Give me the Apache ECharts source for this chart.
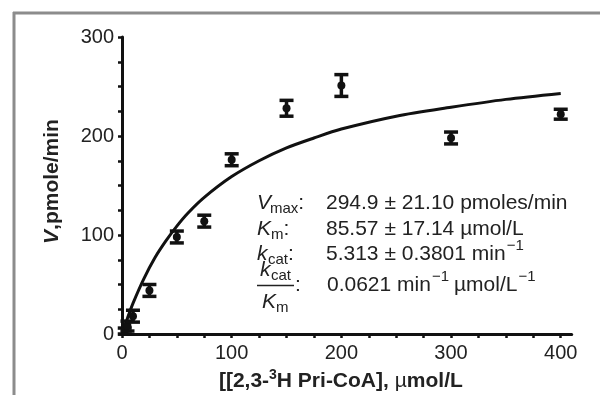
<!DOCTYPE html>
<html>
<head>
<meta charset="utf-8">
<script src="https://cdn.jsdelivr.net/npm/echarts@6/dist/echarts.min.js"></script>
<style>
html,body{margin:0;padding:0;background:#fff;}
#chart{width:600px;height:395px;}
</style>
</head>
<body>
<div id="chart"></div>
<script>
// ---- data ----
const concentrations = [2.5, 5, 10, 25, 50, 75, 100, 150, 200, 300, 400];
const velocities     = [3, 8, 18, 44, 98, 114, 176, 228, 251, 198, 222];
const velocityErrors = [3, 5, 6, 6, 6, 6, 6, 8, 11, 6, 5];

const fitX = [0, 5, 10, 20, 30, 40, 50, 60, 75, 100, 125, 150, 175, 200, 250, 300, 350, 400];
const fitY = [0, 16, 31, 56, 77, 94, 109, 122, 138, 159, 175, 188, 198, 207, 220, 229, 237, 243];

const xTickLabels = [0, 100, 200, 300, 400];
const yTickLabels = [0, 100, 200, 300];
const xMinorTicks = [0, 25, 50, 75, 100, 125, 150, 175, 200, 225, 250, 275, 300, 325, 350, 375, 400];
const yMinorTicks = [0, 25, 50, 75, 100, 125, 150, 175, 200, 225, 250, 275, 300];

const FONT = '"Liberation Sans", Arial, Helvetica, sans-serif';
const INK = '#111';
const TXT = '#222';

const chart = echarts.init(document.getElementById('chart'), null, {renderer: 'canvas'});

const pointData = concentrations.map((c, i) => [c, velocities[i], velocityErrors[i]]);
const fitData = fitX.map((x, i) => [x, fitY[i]]);

// text measuring helper for placing superscripts
const mctx = document.createElement('canvas').getContext('2d');
function tw(str, size, style) {
  mctx.font = (style || '') + ' ' + size + 'px ' + FONT;
  return mctx.measureText(str).width;
}

const FS = 21;   // annotation font size
const SS = 15;   // sub/superscript size
function txt(x, y, s, opts) {
  opts = opts || {};
  return {
    type: 'text', x: x, y: y, silent: true,
    style: {
      text: s, fill: TXT, font: (opts.style || '') + ' ' + (opts.size || FS) + 'px ' + FONT,
      textAlign: opts.align || 'left', textVerticalAlign: 'middle'
    }
  };
}

const graphics = [];
// frame (top and left grey rules)
graphics.push({type: 'line', shape: {x1: 13, y1: 13, x2: 600, y2: 13}, style: {stroke: '#8c8c8c', lineWidth: 3}, silent: true});
graphics.push({type: 'line', shape: {x1: 14, y1: 12, x2: 14, y2: 395}, style: {stroke: '#8c8c8c', lineWidth: 3}, silent: true});

// annotation block
const LX = 257, VX = 326;
const r1 = 203, r2 = 229, r3 = 254, r4 = 285;
// Vmax
graphics.push(txt(LX, r1, 'V', {style: 'italic'}));
graphics.push(txt(LX + 13, r1 + 6, 'max', {size: SS}));
graphics.push(txt(LX + 13 + tw('max', SS), r1, ':'));
graphics.push(txt(VX, r1, '294.9 \u00b1 21.10 pmoles/min'));
// Km
graphics.push(txt(LX, r2, 'K', {style: 'italic'}));
graphics.push(txt(LX + 14, r2 + 6, 'm', {size: SS}));
graphics.push(txt(LX + 14 + tw('m', SS), r2, ':'));
graphics.push(txt(VX, r2, '85.57 \u00b1 17.14 \u00b5mol/L'));
// kcat
graphics.push(txt(LX, r3, 'k', {style: 'italic'}));
graphics.push(txt(LX + 11, r3 + 6, 'cat', {size: SS}));
graphics.push(txt(LX + 11 + tw('cat', SS), r3, ':'));
const v3 = '5.313 \u00b1 0.3801 min';
graphics.push(txt(VX, r3, v3));
graphics.push(txt(VX + tw(v3, FS) + 1, r3 - 8, '\u22121', {size: SS}));
// kcat / Km
graphics.push(txt(LX + 3, r4 - 15, 'k', {style: 'italic'}));
graphics.push(txt(LX + 14, r4 - 9, 'cat', {size: SS}));
graphics.push({type: 'line', shape: {x1: LX, y1: r4 + 0.5, x2: LX + 37, y2: r4 + 0.5}, style: {stroke: TXT, lineWidth: 1.3}, silent: true});
graphics.push(txt(LX + 5, r4 + 17, 'K', {style: 'italic'}));
graphics.push(txt(LX + 19, r4 + 23, 'm', {size: SS}));
graphics.push(txt(LX + 38, r4, ':'));
const v4a = '0.0621 min';
graphics.push(txt(VX + 1, r4, v4a));
let px = VX + 1 + tw(v4a, FS) + 1;
graphics.push(txt(px, r4 - 8, '\u22121', {size: SS}));
px += tw('\u22121', SS) + 5;
const v4b = '\u00b5mol/L';
graphics.push(txt(px, r4, v4b));
px += tw(v4b, FS) + 1;
graphics.push(txt(px, r4 - 8, '\u22121', {size: SS}));

const option = {
  backgroundColor: '#fff',
  animation: false,
  textStyle: {fontFamily: FONT},
  grid: {left: 122, right: 600 - 571.7, top: 37, bottom: 395 - 334, containLabel: false, outerBoundsMode: 'none'},
  xAxis: {
    type: 'value', min: 0, max: 410,
    name: '[[2,3-{sup|3}H Pri-CoA], {mu|\u00b5}mol/L',
    nameLocation: 'middle', nameGap: 30,
    nameTextStyle: {
      fontSize: 21, fontWeight: 'bold', color: TXT, fontFamily: FONT, padding: [0, 12, 0, 0],
      rich: {
        mu: {fontSize: 21, fontWeight: 'normal', color: TXT, fontFamily: FONT},
        sup: {fontSize: 14, fontWeight: 'bold', color: TXT, fontFamily: FONT, padding: [0, 0, 12, 0]}
      }
    },
    axisLine: {show: true, lineStyle: {color: INK, width: 3}},
    axisTick: {show: true, customValues: xMinorTicks, length: 4, lineStyle: {color: INK, width: 2.5}},
    axisLabel: {customValues: xTickLabels, fontSize: 20, color: TXT, margin: 9, fontFamily: FONT},
    splitLine: {show: false}
  },
  yAxis: {
    type: 'value', min: 0, max: 300,
    name: '{iv|V},pmole/min',
    nameLocation: 'middle', nameGap: 59, nameRotate: 90,
    nameTextStyle: {
      fontSize: 21, fontWeight: 'bold', color: TXT, fontFamily: FONT, padding: [0, 0, 0, 8],
      rich: {iv: {fontSize: 21, fontWeight: 'bold', fontStyle: 'italic', color: TXT, fontFamily: FONT}}
    },
    axisLine: {show: true, lineStyle: {color: INK, width: 3}},
    axisTick: {show: true, customValues: yMinorTicks, length: 4, lineStyle: {color: INK, width: 2.5}},
    axisLabel: {customValues: yTickLabels, fontSize: 20, color: TXT, margin: 8, fontFamily: FONT},
    splitLine: {show: false}
  },
  series: [
    {
      name: 'fit', type: 'line', data: fitData, smooth: 0.3, showSymbol: false,
      lineStyle: {color: INK, width: 3}, z: 3, clip: true
    },
    {
      name: 'measured', type: 'custom', data: pointData, z: 4,
      encode: {x: 0, y: 1},
      renderItem: function (params, api) {
        const x = api.value(0), y = api.value(1), e = api.value(2);
        const top = api.coord([x, y + e]);
        const bot = api.coord([x, y - e]);
        const c = api.coord([x, y]);
        const hw = 7;
        const st = {stroke: INK, lineWidth: 3.5};
        return {
          type: 'group',
          children: [
            {type: 'line', shape: {x1: top[0], y1: top[1], x2: bot[0], y2: bot[1]}, style: st},
            {type: 'line', shape: {x1: top[0] - hw, y1: top[1], x2: top[0] + hw, y2: top[1]}, style: st},
            {type: 'line', shape: {x1: bot[0] - hw, y1: bot[1], x2: bot[0] + hw, y2: bot[1]}, style: st},
            {type: 'circle', shape: {cx: c[0], cy: c[1], r: 4}, style: {fill: INK}}
          ]
        };
      }
    }
  ],
  graphic: graphics
};
chart.setOption(option);
</script>
</body>
</html>
